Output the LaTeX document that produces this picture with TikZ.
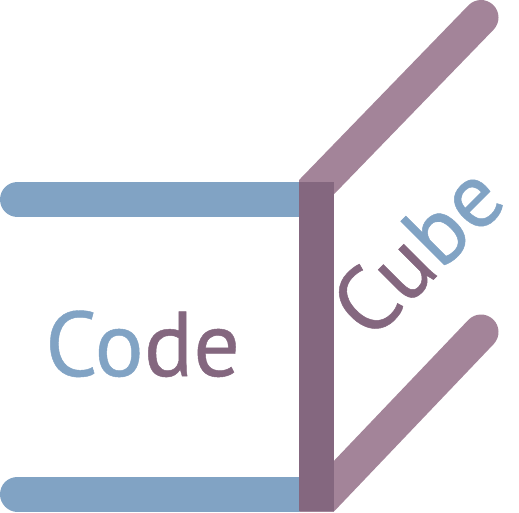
\documentclass[tikz,border=0pt]{standalone}
\usepackage{fontspec}
\newfontfamily\logofont{PT Sans}[FakeBold=0.5]
\definecolor{cubeblue}{HTML}{81A3C4}
\definecolor{cubemauve}{HTML}{A38499}
\definecolor{cubedark}{HTML}{84677F}
\tikzset{
	bar/.style={line width=35pt, line cap=round},
	logotext/.style={font=\fontsize{92}{92}\logofont, inner sep=0pt, anchor=base west},
}
\begin{document}
\begin{tikzpicture}[x=1pt, y=-1pt]
			%%%%% START %%%%%
			\useasboundingbox (0, 0) rectangle (519, 512);
			
			\draw[bar, color=cubeblue] (17.5, 199.5) -- (310, 199.5);
			\draw[bar, color=cubeblue] (17.5, 494) -- (310, 494);
			
			\begin{scope}
				\clip (299, 0) rectangle (519, 511);
				\draw[bar, color=cubemauve] (481, 17.5) -- (305, 199);
				\draw[bar, color=cubemauve] (481, 332) -- (316, 505);
			\end{scope}
			
			\draw[fill=cubedark, draw=none] (299, 182) rectangle (334, 511);
			
			\node[logotext] (code) at (45, 376) {\textcolor{cubeblue}{Co}\textcolor{cubedark}{de}};
			\node[logotext, rotate=45] (cube) at (370, 343) {\textcolor{cubedark}{Cu}\textcolor{cubeblue}{be}};
			%%%%% END %%%%%
		\end{tikzpicture}
\end{document}
